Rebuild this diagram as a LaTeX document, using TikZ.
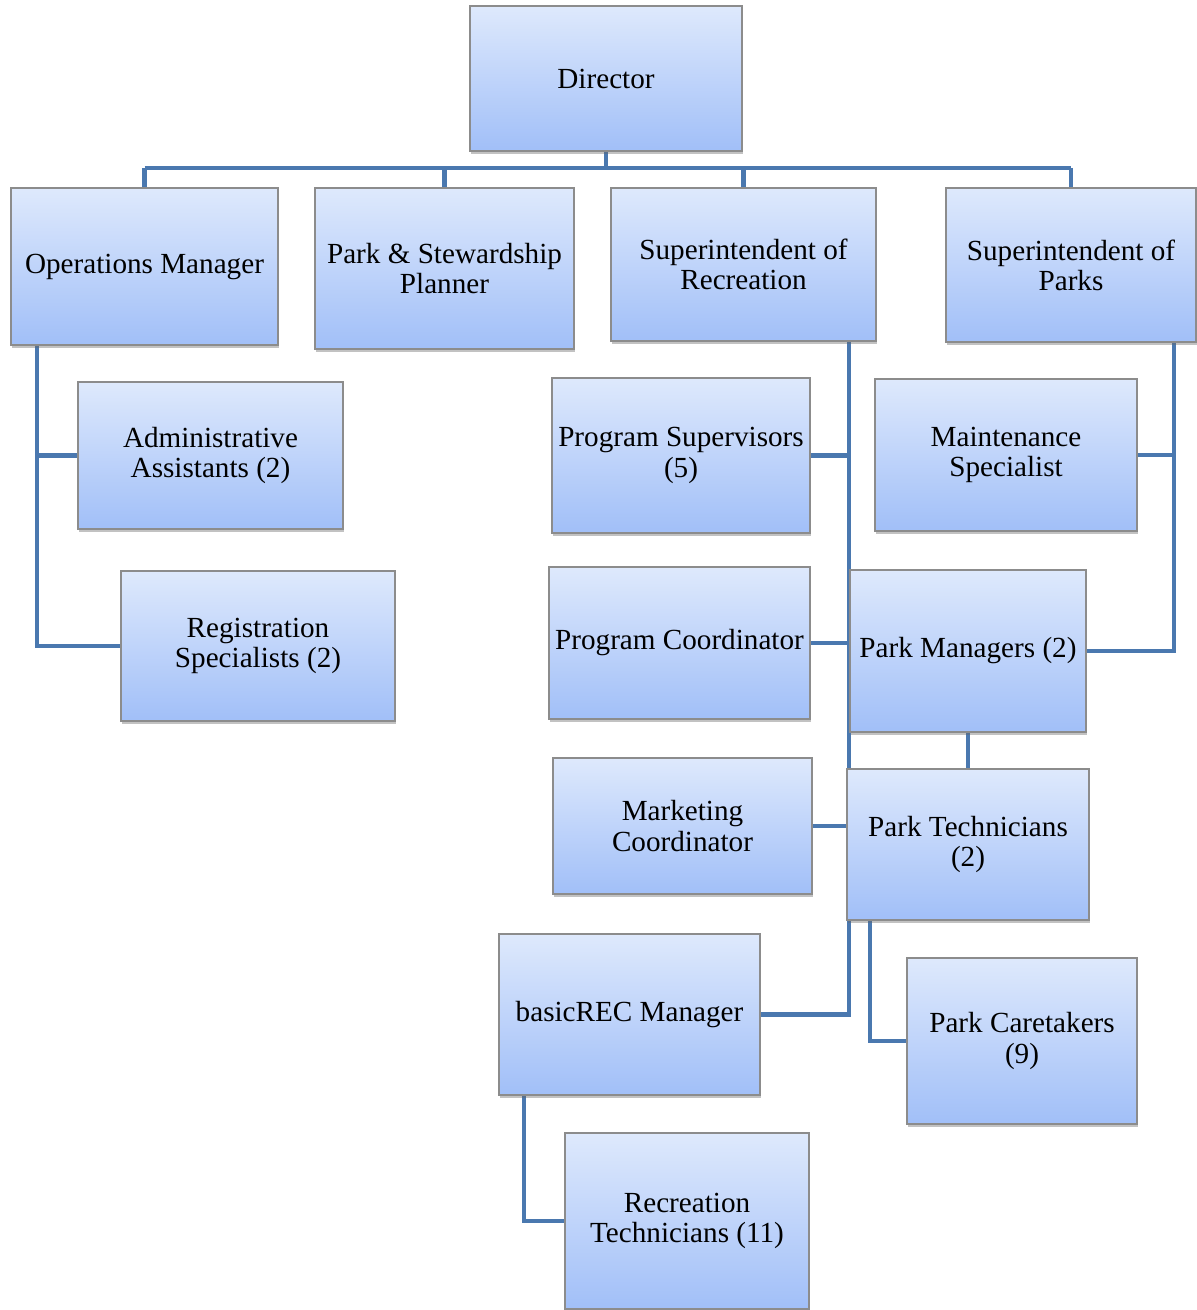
\documentclass[tikz,border=0pt]{standalone}
\usepackage{fontspec}
\setmainfont{Liberation Serif}
\usepackage{tikz}
\usetikzlibrary{shadows}
\usetikzlibrary{backgrounds}
\usepackage{xcolor}

\definecolor{boxtop}{HTML}{DEE9FC}
\definecolor{boxbot}{HTML}{A1BFF8}
\definecolor{boxedge}{HTML}{8C8C8C}
\definecolor{orgline}{HTML}{4A78AF}

\begin{document}
\begin{tikzpicture}[x=0.02cm, y=-0.02cm,
  post/.style={draw=boxedge, line width=0.8pt, top color=boxtop, bottom color=boxbot,
    inner sep=0pt, outer sep=0pt, align=center,
    font=\fontsize{16.6}{17.2}\selectfont,
    drop shadow={shadow xshift=0.8pt, shadow yshift=-1.8pt, opacity=0.4, fill=black!60}},
  link/.style={orgline, line width=2.8pt}]

\useasboundingbox (0,0) rectangle (1196,1310);


% top of the chart
\node[post, minimum width=5.44cm, minimum height=2.90cm] (dir) at (606,78.5) {Director};

\node[post, minimum width=5.34cm, minimum height=3.14cm] (ops) at (144.5,266.5) {Operations Manager};
\node[post, minimum width=5.18cm, minimum height=3.22cm] (psp) at (444.5,268.5) {Park \& Stewardship\\Planner};
\node[post, minimum width=5.30cm, minimum height=3.06cm] (sor) at (743.5,264.5) {Superintendent of\\Recreation};
\node[post, minimum width=5.00cm, minimum height=3.08cm] (sop) at (1071,265) {Superintendent of\\Parks};


% operations
\node[post, minimum width=5.30cm, minimum height=2.94cm] (adm) at (210.5,455.5) {Administrative\\Assistants (2)};
\node[post, minimum width=5.48cm, minimum height=3.00cm] (reg) at (258,646) {Registration\\Specialists (2)};


% recreation
\node[post, minimum width=5.16cm, minimum height=3.10cm] (prs) at (681,455.5) {Program Supervisors\\(5)};
\node[post, minimum width=5.22cm, minimum height=3.04cm] (prc) at (679.5,643) {Program Coordinator};
\node[post, minimum width=5.18cm, minimum height=2.72cm] (mkt) at (682.5,826) {Marketing\\Coordinator};
\node[post, minimum width=5.22cm, minimum height=3.22cm] (brm) at (629.5,1014.5) {basicREC Manager};
\node[post, minimum width=4.88cm, minimum height=3.52cm] (rct) at (687,1221) {Recreation\\Technicians (11)};


% parks
\node[post, minimum width=5.24cm, minimum height=3.04cm] (mnt) at (1006,455) {Maintenance\\Specialist};
\node[post, minimum width=4.72cm, minimum height=3.24cm] (pkm) at (968,651) {Park Managers (2)};
\node[post, minimum width=4.84cm, minimum height=3.02cm] (pkt) at (968,844.5) {Park Technicians\\(2)};
\node[post, minimum width=4.60cm, minimum height=3.32cm] (pkc) at (1022,1041) {Park Caretakers\\(9)};


% connectors
\coordinate (bar) at (0,168);
\coordinate (opsspine) at ([xshift=0.52cm]ops.south west);
\coordinate (sorspine) at ([xshift=-0.54cm]sor.south east);
\coordinate (sopspine) at ([xshift=-0.44cm]sop.south east);

\begin{scope}[on background layer]
\draw[link] (dir.south) -- (dir.south |- bar);
\draw[link] (ops.north |- bar) -- (sop.north |- bar);
\foreach \n in {ops,psp,sor,sop}
  \draw[link] (\n.north |- bar) -- (\n.north);

\draw[link] (opsspine) |- (reg.west);
\draw[link] (adm.west) -- (adm.west -| opsspine);

\draw[link] (sorspine) |- (brm.east);
\foreach \n in {prs,prc,mkt}
  \draw[link] (\n.east) -- (\n.east -| sorspine);

\draw[link] (sopspine) |- (pkm.east);
\draw[link] (mnt.east) -- (mnt.east -| sopspine);

\draw[link] (pkm.south) -- (pkm.south |- pkt.north);
\draw[link] ([xshift=0.46cm]pkt.south west) |- (pkc.west);
\draw[link] ([xshift=0.50cm]brm.south west) |- (rct.west);
\end{scope}

\end{tikzpicture}
\end{document}
